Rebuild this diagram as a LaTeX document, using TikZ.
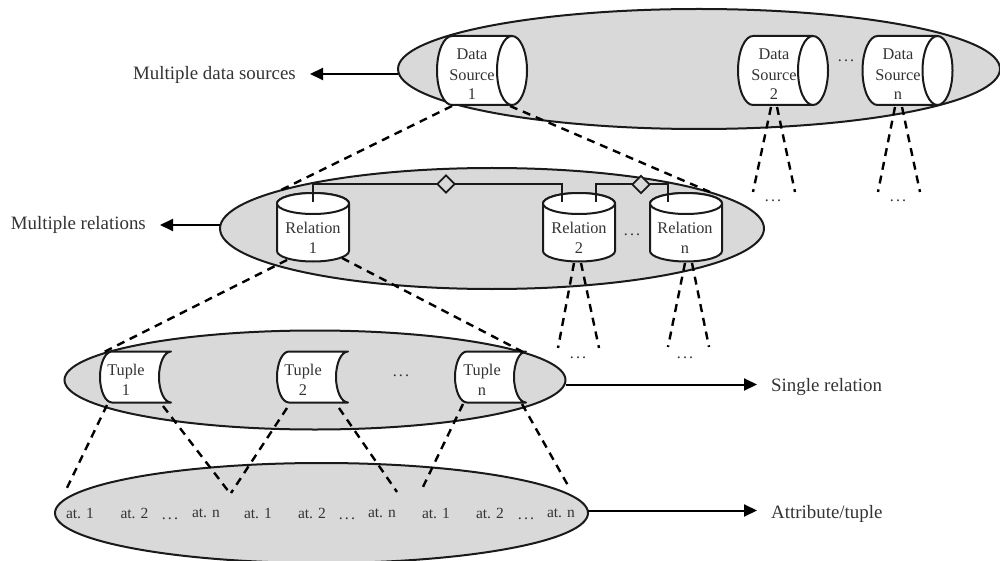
\documentclass[tikz,border=0pt]{standalone}
\usepackage{fontspec}
\setmainfont{Liberation Serif}
\usetikzlibrary{shapes.geometric,arrows.meta}
\definecolor{ovalgrey}{HTML}{D9D9D9}
\definecolor{inkgrey}{HTML}{1A1A1A}
\definecolor{txtgrey}{HTML}{333333}
\newcommand\fs[1]{\fontsize{#1}{#1}\selectfont}
\newcommand\spreaddots{.\hspace{2.2pt}.\hspace{2.2pt}.}
\tikzset{
  oval/.style={ellipse,draw=inkgrey,fill=ovalgrey,line width=2pt,inner sep=0pt},
  cylbody/.style={draw=inkgrey,fill=white,line width=2pt,line join=round},
  lbl/.style={text=txtgrey,inner sep=0pt,font=\fs{15.5},align=center},
  cyltext/.style={text=txtgrey,inner sep=0pt,font=\fs{16.3},align=center},
  sidelabel/.style={text=txtgrey,inner xsep=14pt,inner ysep=0pt,font=\fs{18.9}},
  threedots/.style={text=txtgrey,inner sep=0pt,font=\fs{16}},
  zoomline/.style={draw=black,line width=2.4pt,dash pattern=on 8pt off 6pt},
  arrowline/.style={draw=black,line width=2pt,-{Triangle[length=13pt,width=12pt]}},
  linkline/.style={draw=inkgrey,line width=2pt},
  gem/.style={diamond,draw=inkgrey,fill=ovalgrey,line width=1.7pt,inner sep=0pt,minimum width=18pt,minimum height=18pt},
}
% horizontal cylinder: left edge x = #1
\newcommand\dscyl[1]{%
  \path[cylbody] (#1+15,36) -- (#1+75,36) -- (#1+75,105) -- (#1+15,105)
     arc[start angle=270,end angle=90,x radius=15pt,y radius=34.5pt] -- cycle;
  \path[cylbody] (#1+75,70.5) ellipse[x radius=15pt,y radius=34.5pt];
}
% vertical cylinder: left edge x = #1
\newcommand\relcyl[1]{%
  \path[cylbody] (#1,203.5) -- (#1,251)
     arc[start angle=180,end angle=360,x radius=36pt,y radius=10.5pt] -- (#1+72,203.5)
     arc[start angle=0,end angle=180,x radius=36pt,y radius=10.5pt] -- cycle;
  \path[cylbody] (#1+36,203.5) ellipse[x radius=36pt,y radius=10.5pt];
}
% tuple: left edge x = #1
\newcommand\tupcyl[1]{%
  \path[cylbody] (#1+12,351.5) -- (#1+71,351.5)
     arc[start angle=90,end angle=270,x radius=12pt,y radius=25.5pt]
     -- (#1+12,402.5)
     arc[start angle=270,end angle=90,x radius=12pt,y radius=25.5pt] -- cycle;
}
\begin{document}
\begin{tikzpicture}[x=1pt,y=-1pt]
\useasboundingbox (0,0) rectangle (1000,561);
% ovals
\node[oval,minimum width=602pt,minimum height=120pt] (sources) at (699,69) {};
\node[oval,minimum width=544pt,minimum height=121pt] (relations) at (492,228.5) {};
\node[oval,minimum width=501pt,minimum height=99pt] (tuples) at (315,380) {};
\node[oval,minimum width=533pt,minimum height=100pt] (attrs) at (321.5,513) {};
% cylinders
\dscyl{437}\dscyl{738}\dscyl{862.5}
\relcyl{277}\relcyl{543}\relcyl{650}
\tupcyl{100}\tupcyl{277}\tupcyl{455}
% data source text
\node[cyltext] (ds1) at (472,74) {Data\\[4.5pt]Source\\[3pt]1};
\node[cyltext] (ds2) at (774,74) {Data\\[4.5pt]Source\\[3pt]2};
\node[cyltext] (dsn) at (898,74) {Data\\[4.5pt]Source\\[3pt]n};
% relation text
\node[cyltext] (rel1) at (313,238) {Relation\\[4pt]1};
\node[cyltext] (rel2) at (579,238) {Relation\\[4pt]2};
\node[cyltext] (reln) at (685,238) {Relation\\[4pt]n};
% tuple text
\node[cyltext] (tup1) at (126,379.5) {Tuple\\[4pt]1};
\node[cyltext] (tup2) at (303,379.5) {Tuple\\[4pt]2};
\node[cyltext] (tupn) at (482,379.5) {Tuple\\[4pt]n};
% relation links
\coordinate (r1top) at (313,202);
\coordinate (r2a) at (562,202);
\coordinate (r2b) at (596,202);
\coordinate (rntop) at (668,202);
\draw[linkline] (r1top) |- (446,184) -- (562,184) -- (r2a);
\draw[linkline] (r2b) |- (641,184) -- (668,184) -- (rntop);
\node[gem] (g1) at (446,184) {};
\node[gem] (g2) at (641,184.5) {};
% dashed zooms
\coordinate (a1) at (452,106); \coordinate (a2) at (277,192);
\coordinate (b1) at (510,106); \coordinate (b2) at (710,192);
\coordinate (c1) at (771,107); \coordinate (c2) at (753,192);
\coordinate (d1) at (777,107); \coordinate (d2) at (795,192);
\coordinate (e1) at (895,107); \coordinate (e2) at (878,192);
\coordinate (f1) at (902,107); \coordinate (f2) at (920,192);
\coordinate (g1a) at (574,263); \coordinate (g2a) at (558,348);
\coordinate (h1) at (581,263); \coordinate (h2) at (599,348);
\coordinate (i1) at (685,263); \coordinate (i2) at (668,347);
\coordinate (j1) at (692,263); \coordinate (j2) at (709,347);
\coordinate (k1) at (287,260); \coordinate (k2) at (104,352);
\coordinate (l1) at (342,258); \coordinate (l2) at (523,352);
\coordinate (m1) at (107,405); \coordinate (m2) at (65,492);
\coordinate (n1) at (163,406); \coordinate (n2) at (229,492);
\coordinate (o1) at (287,408); \coordinate (o2) at (231,493);
\coordinate (p1) at (339,408); \coordinate (p2) at (397,492);
\coordinate (q1) at (463,404); \coordinate (q2) at (421,491);
\coordinate (s1) at (522,404); \coordinate (s2) at (570,489);
\foreach \u/\v in {a1/a2,b1/b2,c1/c2,d1/d2,e1/e2,f1/f2,g1a/g2a,h1/h2,i1/i2,j1/j2,k1/k2,l1/l2,m1/m2,n1/n2,o1/o2,p1/p2,q1/q2,s1/s2}
  \draw[zoomline] (\u) -- (\v);
% dots
\node[threedots] (dd1) at (846,61) {\spreaddots};
\node[threedots] (dd2) at (773,201) {\spreaddots};
\node[threedots] (dd3) at (898,201) {\spreaddots};
\node[threedots] (dd4) at (632,235) {\spreaddots};
\node[threedots] (dd5) at (578,358) {\spreaddots};
\node[threedots] (dd6) at (685,358) {\spreaddots};
\node[threedots] (dd7) at (401,376) {\spreaddots};
% attributes
\foreach \nm/\x/\t in {at1/80/at. 1,at2/134.5/at. 2,at3/206/at. n,at4/258/at. 1,at5/312/at. 2,at6/382/at. n,at7/436/at. 1,at8/490/at. 2,at9/561/at. n}
  \node[lbl] (\nm) at (\x,513) {\t};
\node[threedots] (dd8) at (170,519) {\spreaddots};
\node[threedots] (dd9) at (347,519) {\spreaddots};
\node[threedots] (dd10) at (526,519) {\spreaddots};
% side labels
\node[sidelabel,anchor=east] (lab1) at (310,74.5) {Multiple data sources};
\node[sidelabel,anchor=east] (lab2) at (160,225) {Multiple relations};
\node[sidelabel,anchor=west] (lab3) at (757,387) {Single relation};
\node[sidelabel,anchor=west] (lab4) at (757,513.5) {Attribute/tuple};
\coordinate (out1) at (398,74);
\coordinate (out2) at (220,225);
\coordinate (out3) at (565.5,384.5);
\coordinate (out4) at (588,510.5);
\draw[arrowline] (out1) -- (out1 -| lab1.east);
\draw[arrowline] (out2) -- (out2 -| lab2.east);
\draw[arrowline] (out3) -- (out3 -| lab3.west);
\draw[arrowline] (out4) -- (out4 -| lab4.west);
\end{tikzpicture}
\end{document}
